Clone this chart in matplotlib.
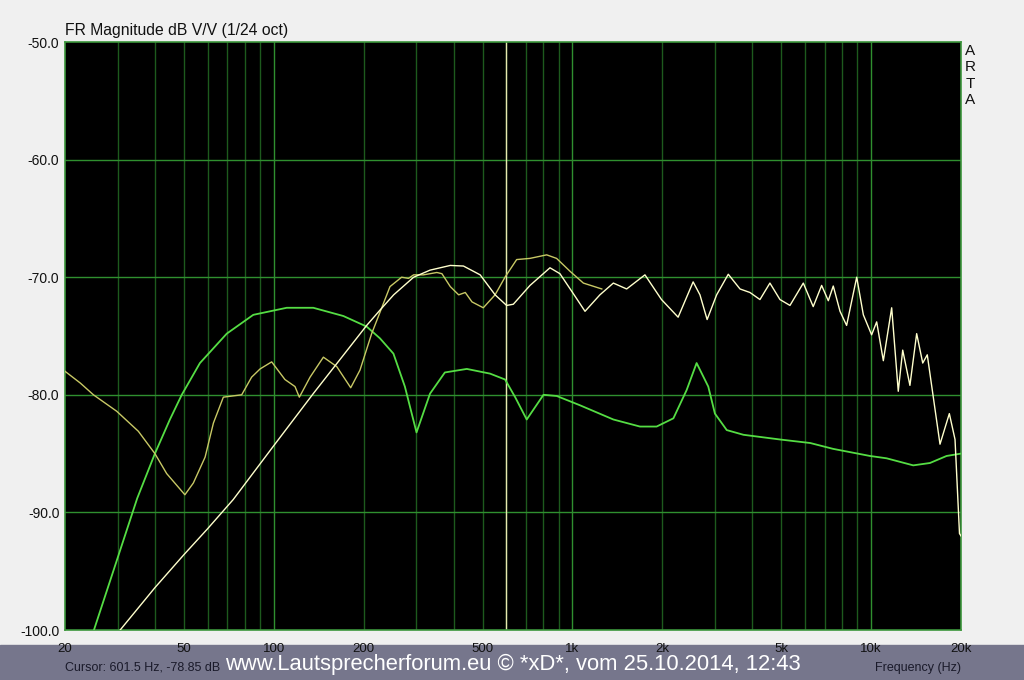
import numpy as np
import matplotlib
matplotlib.use('Agg')
import matplotlib.pyplot as plt

# --- data ---
olive_f = [20, 22.5, 24.9, 29.8, 35.2, 40, 43.8, 50.4, 53.8, 58.9, 62.8, 67.8, 78.1, 84.3, 90, 98.4,
           109, 117.8, 121.8, 132.3, 146.6, 162.5, 181, 194.4, 212.7, 245, 268, 282.5, 294, 317,
           351.6, 365.6, 390, 416, 437.8, 461, 503, 550.8, 594.6, 650.6, 720.9, 820, 885, 982,
           1088, 1254]
olive_db = [-78.0, -79.0, -80.0, -81.4, -83.1, -85.0, -86.7, -88.5, -87.5, -85.3, -82.4, -80.2, -80.0,
            -78.5, -77.8, -77.2, -78.7, -79.3, -80.2, -78.5, -76.8, -77.6, -79.4, -77.9, -74.8, -70.8,
            -70.0, -70.1, -69.8, -69.8, -69.6, -69.7, -70.8, -71.5, -71.3, -72.1, -72.6, -71.5, -70.0,
            -68.5, -68.4, -68.1, -68.4, -69.5, -70.5, -71.0]

white_f = [30.6, 40, 50, 60, 73.2, 99.5, 135.6, 204.7, 226.8, 252, 294, 333.6, 390, 431.6, 491, 551,
           602, 634, 721, 841, 908, 1007, 1102, 1236, 1371, 1519, 1749, 1987, 2259, 2536, 2673, 2825,
           3040, 3325, 3640, 3930, 4245, 4584, 4953, 5350, 5930, 6400, 6830, 7190, 7470, 7870, 8280,
           8950, 9420, 10040, 10440, 10990, 11720, 12330, 12760, 13490, 14210, 14890, 15420, 17010,
           18280, 19100, 19770, 20000]
white_db = [-100.0, -96.4, -93.6, -91.4, -88.9, -84.4, -79.9, -74.1, -72.8, -71.5, -70.0, -69.4, -69.0,
            -69.05, -69.8, -71.5, -72.4, -72.3, -70.7, -69.2, -69.7, -71.4, -72.9, -71.5, -70.5, -71.0,
            -69.8, -71.9, -73.4, -70.4, -71.5, -73.6, -71.5, -69.75, -71.0, -71.3, -71.9, -70.5, -71.9,
            -72.4, -70.5, -72.5, -70.7, -72.0, -70.75, -72.9, -74.1, -70.0, -73.2, -74.9, -73.8, -77.1,
            -72.6, -79.7, -76.2, -79.2, -74.8, -77.3, -76.6, -84.2, -81.6, -83.8, -91.8, -92.0]

green_f = [25, 34.9, 40, 44.9, 49.2, 56.6, 69.6, 85.4, 110.5, 135.6, 171, 204.7, 226.8, 251.6, 274.8,
           300.6, 333.6, 374, 443, 530, 595, 643, 703, 800, 886, 1062, 1371, 1683, 1914, 2178, 2412,
           2605, 2850, 3000, 3286, 3737, 4953, 6255, 7470, 9910, 11270, 13840, 15740, 17900, 20000]
green_db = [-100.0, -88.8, -85.0, -82.1, -80.0, -77.3, -74.8, -73.2, -72.6, -72.6, -73.3, -74.2, -75.2,
            -76.5, -79.3, -83.2, -79.9, -78.1, -77.8, -78.2, -78.7, -80.2, -82.1, -80.0, -80.1, -80.9,
            -82.1, -82.7, -82.7, -82.0, -79.6, -77.3, -79.3, -81.6, -83.0, -83.4, -83.8, -84.1, -84.6,
            -85.2, -85.4, -86.0, -85.8, -85.2, -85.0]

cursor_f = 601.5
xtick_vals = [20, 50, 100, 200, 500, 1000, 2000, 5000, 10000, 20000]
xtick_labels = ['20', '50', '100', '200', '500', '1k', '2k', '5k', '10k', '20k']
ytick_vals = [-100, -90, -80, -70, -60, -50]

W, H = 1024, 680
fig = plt.figure(figsize=(W / 100, H / 100), dpi=100, facecolor='#f0f0f0')

# bottom banner, behind the axes so the tick labels stay on top
fig.patches.append(plt.Rectangle((0, 0), 1, 35 / H, transform=fig.transFigure,
                                 color='#76768c', zorder=-5))

ax = fig.add_axes([65 / W, (H - 630) / H, 896 / W, 588 / H])
ax.set_zorder(2)
ax.set_facecolor('black')

# grid: minor lines per decade, brighter at decades and dB lines
for dec in [10, 100, 1000, 10000]:
    for m in range(1, 10):
        f = dec * m
        if f <= 20 or f >= 20000:
            continue
        c = '#2f8f2f' if m == 1 else '#1d5a1d'
        ax.axvline(f, color=c, lw=1, zorder=1)
for v in ytick_vals[1:-1]:
    ax.axhline(v, color='#2f8f2f', lw=1, zorder=1)

ax.axvline(cursor_f, color='#e8e8b0', lw=1, zorder=2)

ax.plot(green_f, green_db, color='#55dd44', lw=1.3, zorder=3)
ax.plot(olive_f, olive_db, color='#c8c865', lw=1.0, zorder=4)
ax.plot(white_f, white_db, color='#ffffcc', lw=1.0, zorder=5)

ax.set_xscale('log')
ax.set_xlim(20, 20000)
ax.set_ylim(-100, -50)
ax.set_xticks(xtick_vals)
ax.set_xticklabels(xtick_labels)
ax.xaxis.set_minor_locator(matplotlib.ticker.NullLocator())
ax.set_yticks(ytick_vals)
ax.set_yticklabels(['%.1f' % v for v in ytick_vals])
ax.tick_params(length=0, labelsize=10, colors='#111111')
ax.tick_params(axis='x', pad=9, labelsize=9.5)
ax.tick_params(axis='y', pad=4)
for lab in ax.get_xticklabels() + ax.get_yticklabels():
    lab.set_family('Liberation Sans')
for s in ax.spines.values():
    s.set_color('#3c963c')
    s.set_linewidth(1.2)

fig.text(65 / W, 1 - 30 / H, 'FR Magnitude dB V/V (1/24 oct)', family='Liberation Sans',
         fontsize=11.3, color='#111111', va='center', ha='left')
for i, ch in enumerate('ARTA'):
    fig.text(970 / W, 1 - (51 + 16.3 * i) / H, ch, family='Liberation Sans', fontsize=11,
             color='#111111', ha='center', va='center')

fig.text(65 / W, 1 - 668 / H, 'Cursor: 601.5 Hz, -78.85 dB', family='Liberation Sans',
         fontsize=9, color='#1a1a2a', va='center', ha='left')
fig.text(961 / W, 1 - 668 / H, 'Frequency (Hz)', family='Liberation Sans',
         fontsize=9, color='#1a1a2a', va='center', ha='right')
fig.text(513 / W, 1 - 664 / H, 'www.Lautsprecherforum.eu \u00a9 *xD*, vom 25.10.2014, 12:43',
         family='Liberation Sans', fontsize=15.8, color='white',
         va='center', ha='center', zorder=10)

fig.savefig('out.png', dpi=100, facecolor=fig.get_facecolor())
